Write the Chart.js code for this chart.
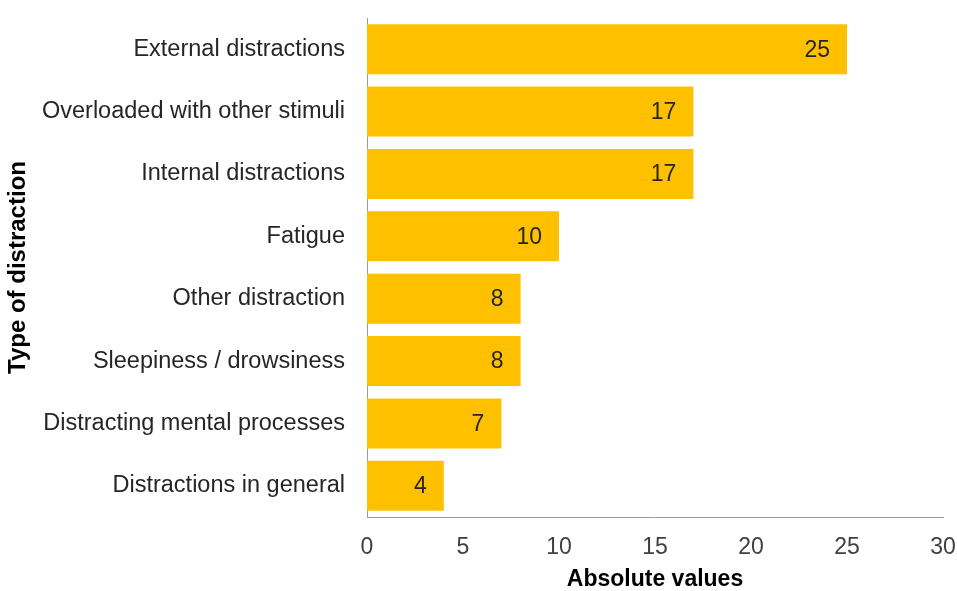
<!DOCTYPE html>
<html>
<head>
<meta charset="utf-8">
<script src="https://cdn.jsdelivr.net/npm/chart.js@4/dist/chart.umd.min.js"></script>
<style>
  html, body { margin: 0; padding: 0; background: #fff; }
  #wrap { width: 957px; height: 591px; }
</style>
</head>
<body>
<div id="wrap"><canvas id="distractionChart" width="957" height="591"></canvas></div>
<script>
// --- Data ---
const categories = [
    "External distractions",
    "Overloaded with other stimuli",
    "Internal distractions",
    "Fatigue",
    "Other distraction",
    "Sleepiness / drowsiness",
    "Distracting mental processes",
    "Distractions in general"
];
const counts = [25, 17, 17, 10, 8, 8, 7, 4];
const xTicks = [0, 5, 10, 15, 20, 25, 30];

const FONT = "'Liberation Sans', Arial, sans-serif";

// value labels drawn just inside the end of each bar
const barValueLabels = {
    id: "barValueLabels",
    afterDatasetsDraw(chart) {
        const ctx = chart.ctx;
        const meta = chart.getDatasetMeta(0);
        ctx.save();
        ctx.font = "23px " + FONT;
        ctx.fillStyle = "#262626";
        ctx.textAlign = "right";
        ctx.textBaseline = "middle";
        meta.data.forEach((bar, i) => {
            ctx.fillText(String(counts[i]), bar.x - 17, bar.y + 1);
        });
        ctx.restore();
    }
};

new Chart(document.getElementById("distractionChart"), {
    type: "bar",
    data: {
        labels: categories,
        datasets: [{
            data: counts,
            backgroundColor: "#FFC000",
            borderWidth: 0,
            categoryPercentage: 1.0,
            barPercentage: 0.8
        }]
    },
    options: {
        indexAxis: "y",
        responsive: false,
        animation: false,
        layout: { padding: { top: 0, right: 0, bottom: 0, left: 0 } },
        plugins: {
            legend: { display: false },
            tooltip: { enabled: false }
        },
        scales: {
            x: {
                min: 0,
                max: 30,
                afterBuildTicks(scale) {
                    scale.ticks = xTicks.map(v => ({ value: v }));
                },
                afterFit(scale) {
                    scale.height = 74;
                    scale.paddingRight = 14;
                },
                grid: { display: false, drawTicks: false },
                border: { display: true, color: "#9a9a9a", width: 1 },
                ticks: {
                    color: "#404040",
                    padding: 17,
                    font: { family: FONT, size: 23 }
                },
                title: {
                    display: true,
                    text: "Absolute values",
                    color: "#000",
                    padding: { top: 0, bottom: 0 },
                    font: { family: FONT, size: 23, weight: "bold", lineHeight: 1.0 }
                }
            },
            y: {
                afterFit(scale) {
                    scale.width = 367;
                    scale.paddingTop = 18;
                    scale.paddingBottom = 0;
                },
                grid: { display: false, drawTicks: false },
                border: { display: true, color: "#9a9a9a", width: 1 },
                ticks: {
                    color: "#262626",
                    padding: 22,
                    font: { family: FONT, size: 23.5 }
                },
                title: {
                    display: true,
                    text: "Type of distraction",
                    color: "#000",
                    padding: { top: 4, bottom: 0 },
                    font: { family: FONT, size: 24, weight: "bold" }
                }
            }
        }
    },
    plugins: [barValueLabels]
});
</script>
</body>
</html>
